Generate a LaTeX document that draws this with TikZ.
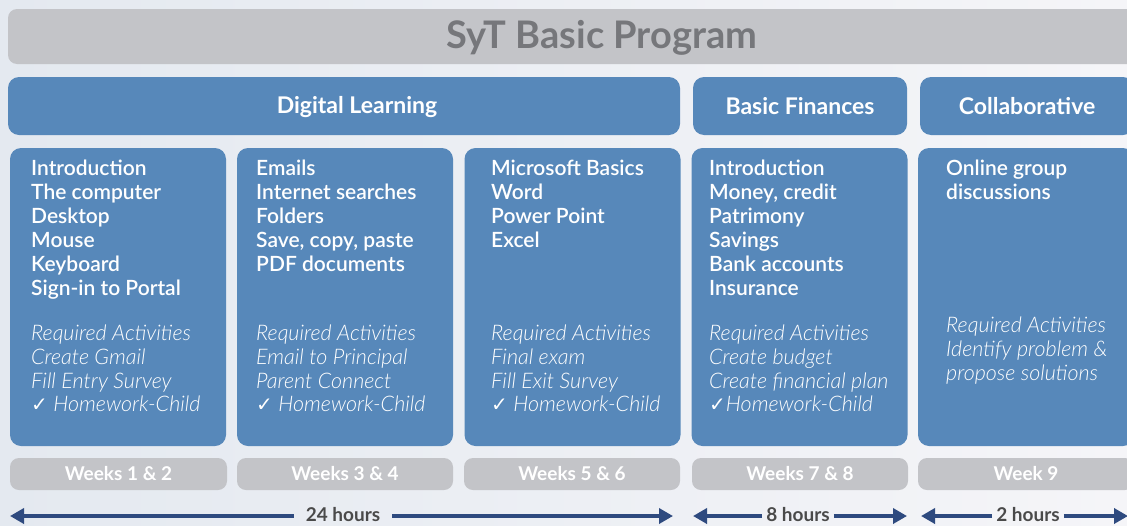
\documentclass[tikz,border=0pt]{standalone}
\usepackage{fontspec}
\setmainfont{Lato}
\newfontfamily\semib{Lato Semibold}
\newfontfamily\lightit{Lato Light Italic}
\newfontfamily\symb{DejaVu Sans}
\usetikzlibrary{arrows.meta}
\definecolor{sytblue}{RGB}{87,136,186}
\definecolor{sytgray}{RGB}{195,196,200}
\definecolor{titlegray}{RGB}{118,119,123}
\definecolor{hourtext}{RGB}{74,74,74}
\definecolor{arrownavy}{RGB}{46,74,127}
\definecolor{bgleft}{RGB}{228,233,240}
\definecolor{bgright}{RGB}{245,245,248}
\tikzset{
  bluebox/.style={fill=sytblue, rounded corners=11pt, inner sep=0pt},
  graybox/.style={fill=sytgray, rounded corners=9pt, inner sep=0pt},
  headtext/.style={text=white, font=\bfseries\fontsize{23}{26}\selectfont},
  weektext/.style={text=white, font=\bfseries\fontsize{19}{22}\selectfont},
  topictext/.style={text=white, align=left, anchor=north west, inner sep=0pt, font=\semib\fontsize{21}{24}\selectfont},
  reqtext/.style={text=white, align=left, anchor=north west, inner sep=0pt, font=\lightit\fontsize{21.5}{23.7}\selectfont},
  hourlabel/.style={text=hourtext, font=\bfseries\fontsize{19}{20}\selectfont, inner ysep=0pt, inner xsep=4pt},
  hourarrow/.style={draw=arrownavy, line width=4pt, -{Triangle[length=14pt,width=15pt]}}
}
\newcommand{\tick}{{\symb\bfseries\fontsize{20}{20}\selectfont ✓}}
\begin{document}
\begin{tikzpicture}[x=1pt,y=-1pt]
    \useasboundingbox (0,0) rectangle (1127,525);
    \clip (0,0) rectangle (1127,525);
    \shade[left color=bgleft, right color=bgright] (0,0) rectangle (1127,525);

    % title bar
    \node[graybox, minimum width=1188pt, minimum height=55pt] (title) at (602,36.5) {};
    \node[text=titlegray, font=\bfseries\fontsize{38}{40}\selectfont] (titletext) at (602,38) {SyT Basic Program};

    % module headers
    \node[bluebox, minimum width=672pt, minimum height=58pt] (hdigital) at (344,106) {};
    \node[headtext] (hdigitaltext) at (357,107) {Digital Learning};
    \node[bluebox, headtext, minimum width=214pt, minimum height=58pt] (hfinance) at (800,106) {Basic Finances};
    \node[bluebox, headtext, minimum width=214pt, minimum height=58pt] (hcollab) at (1027,106) {Collaborative};

    % content boxes
    \node[bluebox, minimum width=216pt, minimum height=298pt] (box1) at (118,297) {};
    \node[bluebox, minimum width=216pt, minimum height=298pt] (box2) at (345,297) {};
    \node[bluebox, minimum width=216pt, minimum height=298pt] (box3) at (572.5,297) {};
    \node[bluebox, minimum width=216pt, minimum height=298pt] (box4) at (799.5,297) {};
    \node[bluebox, minimum width=216pt, minimum height=298pt] (box5) at (1026,297) {};

    \node[topictext] (topics1) at (31,160) {Introduction\\The computer\\Desktop\\Mouse\\Keyboard\\Sign-in to Portal};
    \node[reqtext] (req1) at (31,325) {Required Activities\\Create Gmail\\Fill Entry Survey\\\tick\ Homework-Child};

    \node[topictext] (topics2) at (256,160) {Emails\\Internet searches\\Folders\\Save, copy, paste\\PDF documents};
    \node[reqtext] (req2) at (256,325) {Required Activities\\Email to Principal\\Parent Connect\\\tick\ Homework-Child};

    \node[topictext] (topics3) at (491,160) {Microsoft Basics\\Word\\Power Point\\Excel};
    \node[reqtext] (req3) at (491,325) {Required Activities\\Final exam\\Fill Exit Survey\\\tick\ Homework-Child};

    \node[topictext] (topics4) at (709,160) {Introduction\\Money, credit\\Patrimony\\Savings\\Bank accounts\\Insurance};
    \node[reqtext] (req4) at (709,325) {Required Activities\\Create budget\\Create financial plan\\\tick Homework-Child};

    \node[topictext] (topics5) at (946,160) {Online group\\discussions};
    \node[reqtext] (req5) at (946,317) {Required Activities\\Identify problem \&\\propose solutions};

    % weeks
    \node[graybox, weektext, minimum width=217pt, minimum height=32pt] (week1) at (118.5,474) {Weeks 1 \& 2};
    \node[graybox, weektext, minimum width=216pt, minimum height=32pt] (week2) at (345,474) {Weeks 3 \& 4};
    \node[graybox, weektext, minimum width=216pt, minimum height=32pt] (week3) at (572,474) {Weeks 5 \& 6};
    \node[graybox, weektext, minimum width=216pt, minimum height=32pt] (week4) at (800,474) {Weeks 7 \& 8};
    \node[graybox, weektext, minimum width=216pt, minimum height=32pt] (week5) at (1026,474) {Week 9};

    % hours
    \node[hourlabel, inner xsep=12pt] (hours24) at (343,515) {24 hours};
    \coordinate (h24left) at (10,516);
    \coordinate (h24right) at (673,516);
    \draw[hourarrow] (hours24.west |- h24left) -- (h24left);
    \draw[hourarrow] (hours24.east |- h24right) -- (h24right);

    \node[hourlabel] (hours8) at (798,515) {8 hours};
    \coordinate (h8left) at (693,516);
    \coordinate (h8right) at (907,516);
    \draw[hourarrow] (hours8.west |- h8left) -- (h8left);
    \draw[hourarrow] (hours8.east |- h8right) -- (h8right);

    \node[hourlabel] (hours2) at (1028,515) {2 hours};
    \coordinate (h2left) at (921,516);
    \coordinate (h2right) at (1128,516);
    \draw[hourarrow] (hours2.west |- h2left) -- (h2left);
    \draw[hourarrow] (hours2.east |- h2right) -- (h2right);
\end{tikzpicture}
\end{document}
